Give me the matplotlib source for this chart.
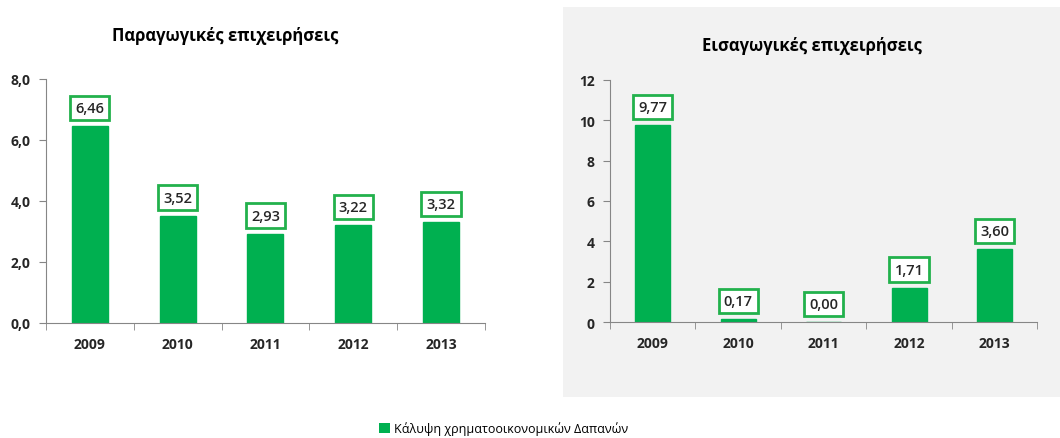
import matplotlib
matplotlib.use('Agg')
import matplotlib.pyplot as plt
import matplotlib.ticker as mtick
from matplotlib.patches import Rectangle, Patch
import numpy as np

plt.rcParams['font.family'] = ['Open Sans', 'DejaVu Sans']
plt.rcParams['font.size'] = 10

YEARS = ['2009', '2010', '2011', '2012', '2013']
PROD = [6.46, 3.52, 2.93, 3.22, 3.32]
IMPORT = [9.77, 0.17, 0.00, 1.71, 3.60]
TITLES = ['Παραγωγικές επιχειρήσεις', 'Εισαγωγικές επιχειρήσεις']
LEGEND = 'Κάλυψη χρηματοοικονομικών Δαπανών'

GREEN = '#00B050'
BOX_EDGE = '#22B14C'
AXIS = '#868686'
TEXT = '#262626'
PANEL = '#F2F2F2'

X = np.arange(len(YEARS))

fig = plt.figure(figsize=(10.6, 4.39), dpi=100)
fig.patch.set_facecolor('white')

# grey panel behind the right chart
fig.patches.append(Rectangle((0.531, 0.093), 0.469, 0.889, transform=fig.transFigure,
                             facecolor=PANEL, edgecolor='none', zorder=0))

ax1 = fig.add_axes([0.0434, 0.262, 0.414, 0.556], zorder=2)
ax2 = fig.add_axes([0.5755, 0.264, 0.403, 0.552], zorder=2)


def draw(ax, vals, ymax, step, fmt, title, title_pos):
    ax.set_facecolor('none')
    ax.bar(X, vals, width=0.41, color=GREEN, edgecolor=GREEN, linewidth=1, zorder=2)
    for xi, v in zip(X, vals):
        ax.annotate(f'{v:.2f}'.replace('.', ','), (xi, v), xytext=(0, 13),
                    textcoords='offset points', ha='center', va='center',
                    fontsize=10.5, fontweight='semibold', color=TEXT,
                    bbox=dict(boxstyle='square,pad=0.35', facecolor='white',
                              edgecolor=BOX_EDGE, linewidth=2))
    ax.set_xlim(-0.5, len(YEARS) - 0.5)
    ax.set_ylim(0, ymax)
    ax.yaxis.set_major_locator(mtick.MultipleLocator(step))
    ax.yaxis.set_major_formatter(mtick.FuncFormatter(fmt))
    ax.set_xticks(X)
    ax.set_xticklabels(YEARS, fontweight='bold', color=TEXT)
    ax.set_xticks(np.arange(-0.5, len(YEARS)), minor=True)
    ax.tick_params(axis='x', which='major', length=0, pad=10)
    ax.tick_params(axis='x', which='minor', length=5, color=AXIS)
    ax.tick_params(axis='y', length=5, color=AXIS, labelcolor=TEXT, pad=6)
    for lab in ax.get_yticklabels():
        lab.set_fontweight('bold')
    for s in ['top', 'right']:
        ax.spines[s].set_visible(False)
    for s in ['left', 'bottom']:
        ax.spines[s].set_color(AXIS)
    fig.text(title_pos[0], title_pos[1], title, ha='center', va='center',
             fontsize=12, fontweight='bold', color='black')


draw(ax1, PROD, 8, 2, lambda v, _: f'{v:.1f}'.replace('.', ','), TITLES[0], (0.212, 0.918))
draw(ax2, IMPORT, 12, 2, lambda v, _: f'{v:.0f}', TITLES[1], (0.766, 0.895))

fig.legend([Patch(facecolor=GREEN)], [LEGEND], loc='center', bbox_to_anchor=(0.475, 0.022),
           frameon=False, fontsize=9, handlelength=0.9, handleheight=0.9,
           handletextpad=0.3)

fig.savefig('out.png', dpi=100, facecolor='white')
